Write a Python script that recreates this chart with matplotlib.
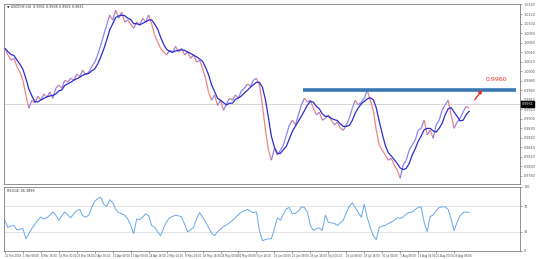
import matplotlib
matplotlib.use("Agg")
import matplotlib.pyplot as plt
import numpy as np
import pandas as pd
from matplotlib.collections import LineCollection

# ---------------- data ----------------
close = [
    1.0048, 1.0034, 1.0023, 1.0027, 1.0010, 0.9998, 0.9981, 0.9950, 0.9922, 0.9939,
    0.9933, 0.9947, 0.9939, 0.9952, 0.9945, 0.9956, 0.9943, 0.9964, 0.9971, 0.9964,
    0.9981, 0.9977, 0.9985, 0.9981, 0.9994, 0.9989, 1.0002, 0.9992, 0.9998, 1.0010,
    1.0019, 1.0034, 1.0055, 1.0076, 1.0097, 1.0118, 1.0107, 1.0128, 1.0111, 1.0124,
    1.0103, 1.0107, 1.0099, 1.0090, 1.0103, 1.0097, 1.0111, 1.0103, 1.0118, 1.0099,
    1.0076, 1.0061, 1.0048, 1.0040, 1.0034, 1.0044, 1.0040, 1.0052, 1.0040, 1.0048,
    1.0034, 1.0040, 1.0027, 1.0034, 1.0019, 1.0023, 1.0006, 0.9985, 0.9956, 0.9939,
    0.9950, 0.9928, 0.9939, 0.9918, 0.9931, 0.9943, 0.9939, 0.9950, 0.9943, 0.9960,
    0.9964, 0.9973, 0.9968, 0.9981, 0.9985, 0.9971, 0.9928, 0.9876, 0.9834, 0.9813,
    0.9838, 0.9824, 0.9834, 0.9845, 0.9866, 0.9887, 0.9897, 0.9887, 0.9908, 0.9929,
    0.9943, 0.9935, 0.9939, 0.9922, 0.9908, 0.9914, 0.9897, 0.9901, 0.9908, 0.9897,
    0.9887, 0.9893, 0.9880, 0.9876, 0.9887, 0.9901, 0.9922, 0.9939, 0.9929, 0.9935,
    0.9943, 0.9960, 0.9939, 0.9918, 0.9876, 0.9845, 0.9834, 0.9824, 0.9813, 0.9817,
    0.9803, 0.9792, 0.9775, 0.9803, 0.9813, 0.9834, 0.9845, 0.9855, 0.9876, 0.9880,
    0.9897, 0.9866, 0.9876, 0.9859, 0.9887, 0.9897, 0.9918, 0.9929, 0.9939, 0.9908,
    0.9880, 0.9893, 0.9901, 0.9914, 0.9926, 0.9922,
]

rsi = [
    48, 37, 39, 40, 33, 34, 35, 19, 27, 35,
    42, 48, 53, 50, 52, 56, 61, 56, 48, 55,
    61, 56, 52, 58, 63, 65, 55, 53, 56, 68,
    78, 82, 84, 73, 70, 80, 76, 65, 60, 58,
    56, 50, 40, 27, 50, 49, 53, 58, 55, 40,
    37, 30, 24, 36, 46, 52, 54, 56, 55, 53,
    42, 30, 33, 37, 50, 60, 53, 45, 37, 28,
    24, 30, 34, 38, 41, 44, 48, 52, 57, 61,
    63, 65, 62, 60, 61, 32, 16, 18, 19, 19,
    35, 52, 48, 58, 66, 68, 58, 59, 62, 69,
    68, 61, 40, 32, 35, 36, 32, 56, 45, 44,
    43, 40, 44, 48, 60, 70, 75, 68, 60, 53,
    73, 52, 37, 24, 18, 37, 39, 40, 43, 45,
    48, 52, 51, 53, 58, 60, 61, 65, 68, 69,
    45, 30, 54, 56, 63, 68, 69, 69, 65, 50,
    32, 45, 55, 60, 61, 60,
]

date_labels = [
    "22 Feb 2018", "1 Mar 08:00", "8 Mar 16:00", "16 Mar 00:00", "23 Mar 08:00",
    "2 Apr 16:00", "10 Apr 00:00", "17 Apr 08:00", "24 Apr 16:00", "2 May 00:00",
    "9 May 08:00", "16 May 16:00", "24 May 00:00", "31 May 08:00", "7 Jun 16:00",
    "15 Jun 00:00", "22 Jun 08:00", "29 Jun 16:00", "9 Jul 00:00", "16 Jul 08:00",
    "23 Jul 16:00", "31 Jul 00:00", "7 Aug 08:00", "14 Aug 16:00", "22 Aug 00:00",
    "29 Aug 08:00",
]

resistance = 0.9960
current_price = 0.9931
price_ticks = [0.9780, 0.9800, 0.9820, 0.9840, 0.9860, 0.9880, 0.9900, 0.9920, 0.9940,
               0.9960, 0.9980, 1.0000, 1.0020, 1.0040, 1.0060, 1.0080, 1.0100, 1.0120,
               1.0140]
rsi_ticks = [0, 30, 70, 100]

# ---------------- figure ----------------
n = min(len(close), len(rsi))
close = np.array(close[:n])
rsi = np.array(rsi[:n])
x = np.arange(n)
ma = pd.Series(close).rolling(4, min_periods=1).mean().values

W, H = 553, 259
fig = plt.figure(figsize=(W / 100, H / 100), dpi=100)
fig.patch.set_facecolor("white")

def fx(px):
    return px / W

def fy(py):
    return 1 - py / H

ax = fig.add_axes([fx(4), fy(184), fx(520) - fx(4), fy(4) - fy(184)])
ax2 = fig.add_axes([fx(4), fy(251), fx(520) - fx(4), fy(187) - fy(251)], sharex=ax)

xmax = (520 - 4) / 3
for a in (ax, ax2):
    a.set_facecolor("white")
    for s in a.spines.values():
        s.set_color("#7f7f7f")
        s.set_linewidth(0.6)
    a.yaxis.tick_right()
    a.tick_params(axis="y", labelsize=2.4, length=1.5, width=0.4, pad=1, colors="#555555")
ax.set_xlim(-0.3, xmax)
ax.set_ylim(0.9763, 1.0141)
ax.set_yticks(price_ticks)
ax.set_yticklabels([f"{v:.4f}" for v in price_ticks])
ax.tick_params(axis="x", bottom=False, labelbottom=False)

# price line (coloured by direction, like candles)
pts = np.column_stack([x, close]).reshape(-1, 1, 2)
segs = np.concatenate([pts[:-1], pts[1:]], axis=1)
cols = ["#7b6fe6" if close[i + 1] >= close[i] else "#e6706a" for i in range(n - 1)]
lc = LineCollection(segs, colors=cols, linewidths=0.9, alpha=0.85)
ax.add_collection(lc)
ax.plot(x, ma, color="#2b2bd0", lw=0.9)

# current price line
ax.axhline(current_price, color="#d0d0d0", lw=0.6, zorder=0)
ax.text(1.003, current_price, f"{current_price:.4f}", transform=ax.get_yaxis_transform(),
        fontsize=2.4, color="white", va="center", ha="left",
        bbox=dict(boxstyle="square,pad=0.25", fc="black", ec="black"))

# resistance line
x0 = (303 - 4) / 3
x1 = (516 - 4) / 3
ax.plot([x0, x1], [resistance, resistance], color="#3a78b5", lw=2.6, solid_capstyle="butt")
ax.annotate("", xy=(160, 0.99655), xytext=(156.3, 0.9935),
            arrowprops=dict(arrowstyle="-|>", color="#e8322c", lw=1.0, mutation_scale=5))
ax.text(160.5, 0.9978, f"{resistance:.4f}", color="#e8322c", fontsize=4.5, ha="left", va="bottom")

ax.text(0.005, 0.995, "\u25BC USDCHF,H4  0.9931 0.9936 0.9925 0.9931", transform=ax.transAxes,
        fontsize=2.4, va="top", ha="left", color="#333333")

# RSI panel
ax2.set_ylim(0, 100)
ax2.set_yticks(rsi_ticks)
ax2.set_yticklabels([str(v) for v in rsi_ticks])
for lvl in (30, 70):
    ax2.axhline(lvl, color="#d8d8d8", lw=0.5, zorder=0)
ax2.plot(x, rsi, color="#6aa6ea", lw=0.7)
ax2.text(0.005, 0.97, "RSI(14) 46.3899", transform=ax2.transAxes,
         fontsize=2.4, va="top", ha="left", color="#333333")

tick_pos = list(range(0, 6 * len(date_labels), 6))
ax2.set_xticks(tick_pos)
ax2.set_xticklabels(date_labels)
ax2.tick_params(axis="x", labelsize=1.9, length=1.2, width=0.4, pad=0.8, colors="#444444")
for lbl in ax2.get_xticklabels():
    lbl.set_ha("left")

fig.savefig("out.png", dpi=100, facecolor="white")
